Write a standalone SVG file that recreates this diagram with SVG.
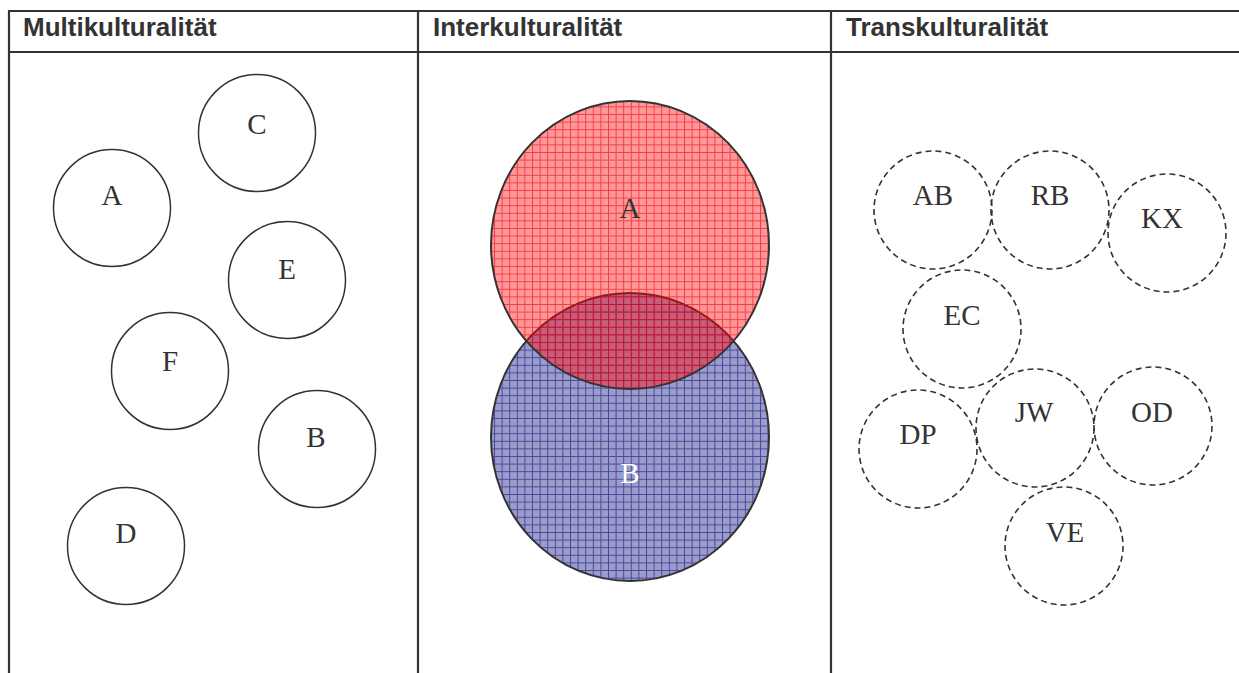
<svg xmlns="http://www.w3.org/2000/svg" width="1239" height="673" viewBox="0 0 1239 673">
<style>
.grid{stroke:#333;stroke-width:2.2;fill:none}
.hdr{font-family:"Liberation Sans",Arial,sans-serif;font-weight:bold;font-size:26px;fill:#333}
.lbl{font-family:"Liberation Serif","Times New Roman",serif;font-size:29px;fill:#333;text-anchor:middle}
.solid{fill:none;stroke:#333;stroke-width:1.5}
.dash{fill:none;stroke:#333;stroke-width:1.6;stroke-dasharray:6 4}
</style>
<defs>
<pattern id="redgrid" width="7.6" height="7.6" patternUnits="userSpaceOnUse" x="0" y="0">
<rect width="7.6" height="7.6" fill="#ff0000" fill-opacity="0.4"/>
<path d="M0 0.5H7.6M0.5 0V7.6" stroke="#ee0010" stroke-opacity="0.6" stroke-width="1"/>
</pattern>
<pattern id="bluegrid" width="7.6" height="7.6" patternUnits="userSpaceOnUse" x="0" y="0">
<rect width="7.6" height="7.6" fill="#9c9cca"/>
<path d="M0 0.5H7.6M0.5 0V7.6" stroke="#3a3a98" stroke-opacity="0.85" stroke-width="1"/>
</pattern>
</defs>
<rect width="1239" height="673" fill="#fff"/>
<g id="table">
<line class="grid" x1="8" y1="11" x2="1239" y2="11"/>
<line class="grid" x1="8" y1="52" x2="1239" y2="52"/>
<line class="grid" x1="9" y1="10" x2="9" y2="673"/>
<line class="grid" x1="418" y1="10" x2="418" y2="673"/>
<line class="grid" x1="831" y1="10" x2="831" y2="673"/>
<text class="hdr" x="23" y="36">Multikulturalität</text>
<text class="hdr" x="433" y="36">Interkulturalität</text>
<text class="hdr" x="846" y="36">Transkulturalität</text>
</g>
<g id="multi">
<g id="m-C"><circle class="solid" cx="257" cy="133" r="58.5"/><text class="lbl" x="257" y="134">C</text></g>
<g id="m-A"><circle class="solid" cx="112" cy="208" r="58.5"/><text class="lbl" x="112" y="205">A</text></g>
<g id="m-E"><circle class="solid" cx="287" cy="280" r="58.5"/><text class="lbl" x="287" y="279">E</text></g>
<g id="m-F"><circle class="solid" cx="170" cy="371" r="58.5"/><text class="lbl" x="170" y="371">F</text></g>
<g id="m-B"><circle class="solid" cx="317" cy="449" r="58.5"/><text class="lbl" x="316" y="447">B</text></g>
<g id="m-D"><circle class="solid" cx="126" cy="546" r="58.5"/><text class="lbl" x="126" y="543">D</text></g>
</g>
<g id="inter">
<g id="i-B"><ellipse cx="630" cy="437" rx="139" ry="144" fill="url(#bluegrid)" stroke="#333" stroke-width="2"/></g>
<g id="i-A"><ellipse cx="630" cy="245" rx="139" ry="144" fill="url(#redgrid)" stroke="#333" stroke-width="2"/><text class="lbl" x="630" y="218">A</text></g>
<text class="lbl" x="630" y="483" style="fill:#fff">B</text>
</g>
<g id="trans">
<g id="t-AB"><circle class="dash" cx="933" cy="210" r="59"/><text class="lbl" x="933" y="205">AB</text></g>
<g id="t-RB"><circle class="dash" cx="1050" cy="210" r="59"/><text class="lbl" x="1050" y="205">RB</text></g>
<g id="t-KX"><circle class="dash" cx="1167" cy="233" r="59"/><text class="lbl" x="1162" y="228">KX</text></g>
<g id="t-EC"><circle class="dash" cx="962" cy="329" r="59"/><text class="lbl" x="962" y="325">EC</text></g>
<g id="t-DP"><circle class="dash" cx="918" cy="449" r="59"/><text class="lbl" x="918" y="444">DP</text></g>
<g id="t-JW"><circle class="dash" cx="1035" cy="428" r="59"/><text class="lbl" x="1034" y="422">JW</text></g>
<g id="t-OD"><circle class="dash" cx="1153" cy="426" r="59"/><text class="lbl" x="1152" y="422">OD</text></g>
<g id="t-VE"><circle class="dash" cx="1064" cy="546" r="59"/><text class="lbl" x="1065" y="542">VE</text></g>
</g>
</svg>
